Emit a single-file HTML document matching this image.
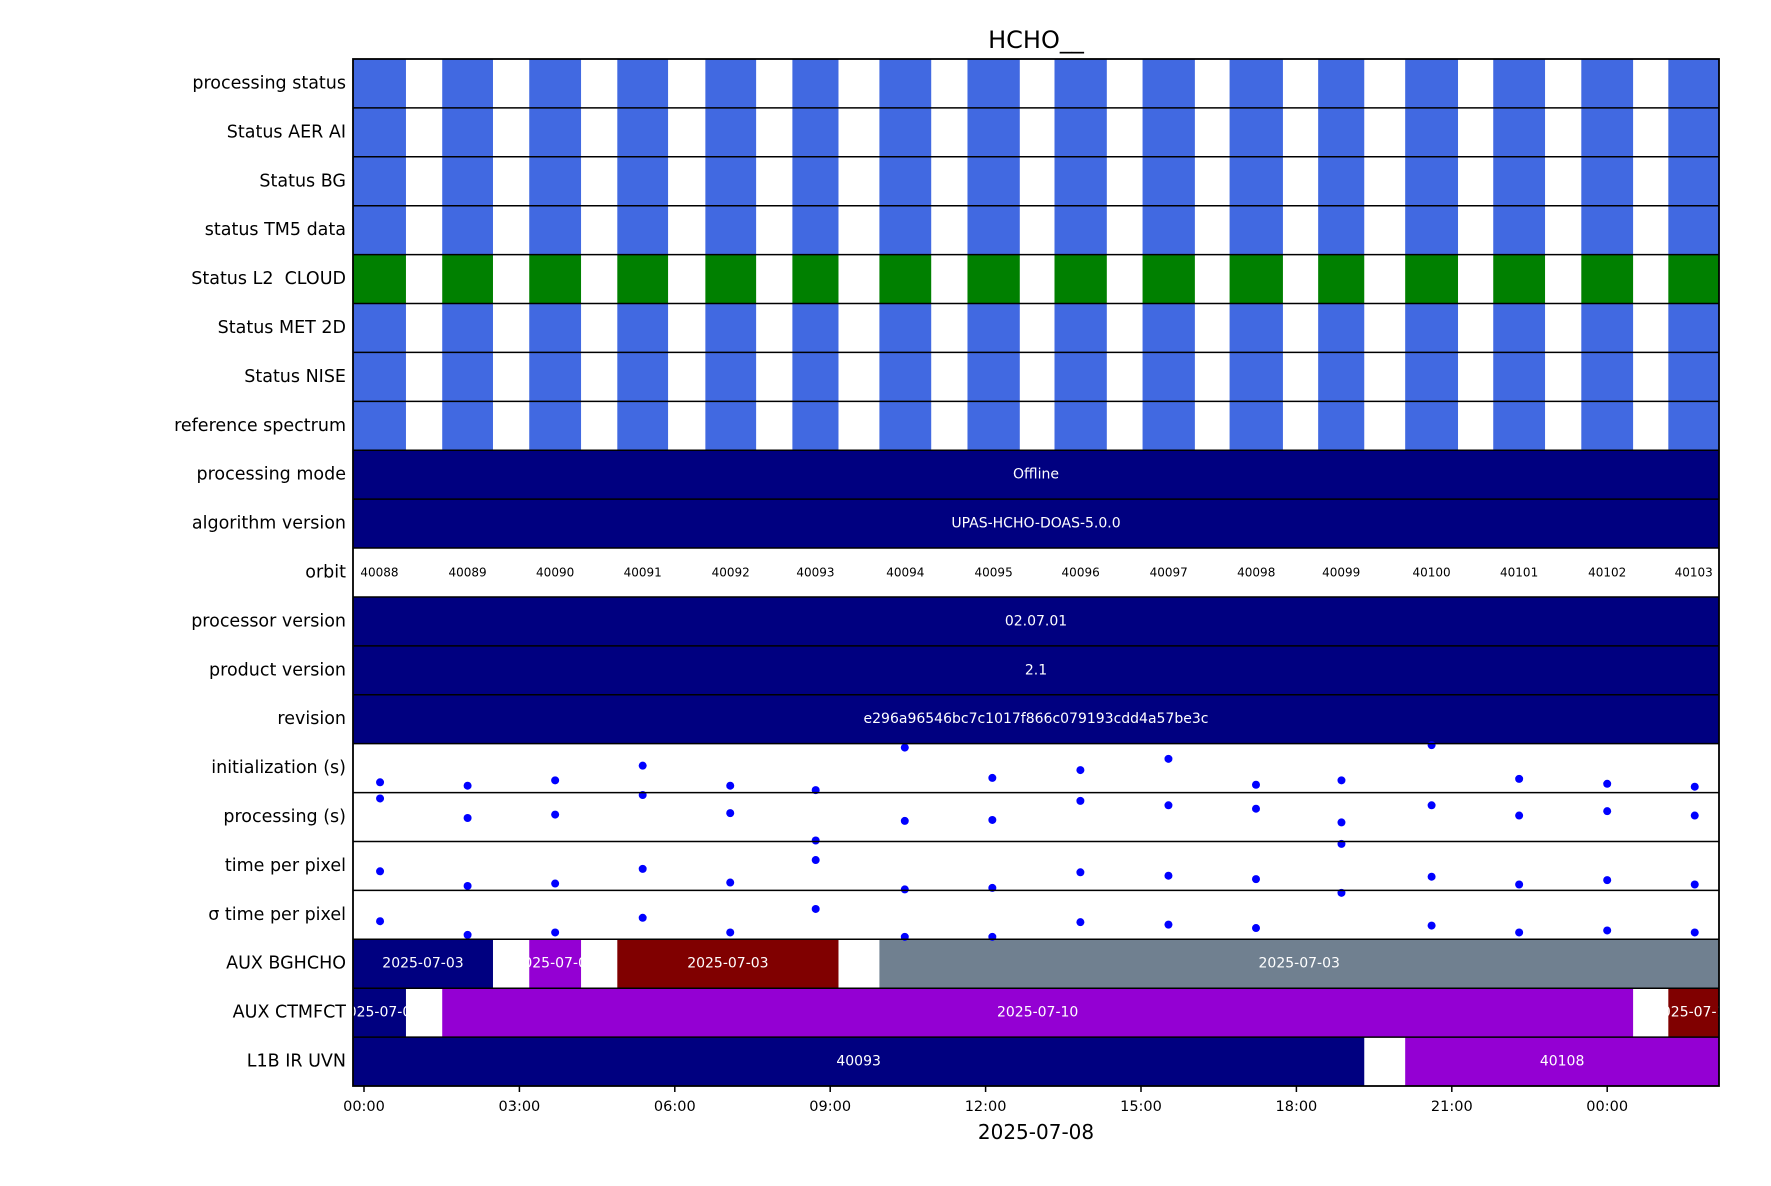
<!DOCTYPE html>
<html><head><meta charset="utf-8"><style>
body{margin:0;background:#fff;}
svg text{font-family:"DejaVu Sans","Liberation Sans",sans-serif;}
</style></head><body>
<svg id="chart" width="1771" height="1181" xmlns="http://www.w3.org/2000/svg">
<text x="1036" y="48" font-size="24" text-anchor="middle">HCHO__</text>
<g id="plot"></g>
</svg>
<script>
const rowLabels=["processing status","Status AER AI","Status BG","status TM5 data","Status L2  CLOUD","Status MET 2D","Status NISE","reference spectrum","processing mode","algorithm version","orbit","processor version","product version","revision","initialization (s)","processing (s)","time per pixel","\u03c3 time per pixel","AUX BGHCHO","AUX CTMFCT","L1B IR UVN"];
const orbits=[40088,40089,40090,40091,40092,40093,40094,40095,40096,40097,40098,40099,40100,40101,40102,40103];
const orbitStart=[-0.5,1.51,3.19,4.89,6.59,8.27,9.95,11.65,13.33,15.03,16.71,18.42,20.1,21.8,23.5,25.18];
const orbitEnd=[0.81,2.49,4.19,5.87,7.57,9.16,10.95,12.66,14.34,16.04,17.74,19.31,21.12,22.8,24.5,26.5];
const orbitMid=[0.31,2.0,3.69,5.38,7.07,8.72,10.44,12.13,13.83,15.53,17.22,18.87,20.61,22.3,24.0,25.69];
const initVals=[0.21,0.14,0.25,0.55,0.14,0.05,0.92,0.30,0.46,0.69,0.16,0.25,0.97,0.28,0.18,0.12];
const procVals=[0.88,0.48,0.55,0.95,0.58,0.02,0.42,0.44,0.83,0.74,0.67,0.39,0.74,0.53,0.62,0.53];
const tppVals=[0.39,0.09,0.14,0.44,0.16,0.62,0.02,0.05,0.37,0.30,0.23,0.95,0.28,0.12,0.21,0.12];
const sigmaVals=[0.37,0.09,0.14,0.44,0.14,0.62,0.05,0.05,0.35,0.30,0.23,0.95,0.28,0.14,0.18,0.14];
const bgSegs=[[-0.5,2.49,"#000080","2025-07-03"],[3.19,4.19,"#9400D3","2025-07-03"],[4.89,9.16,"#800000","2025-07-03"],[9.95,26.5,"#708090","2025-07-03"]];
const ctmSegs=[[-0.5,0.81,"#000080","2025-07-09"],[1.51,24.5,"#9400D3","2025-07-10"],[25.18,26.5,"#800000","2025-07-11"]];
const l1bSegs=[[-0.5,19.31,"#000080","40093"],[20.1,26.5,"#9400D3","40108"]];
const constRows={8:"Offline",9:"UPAS-HCHO-DOAS-5.0.0",11:"02.07.01",12:"2.1",13:"e296a96546bc7c1017f866c079193cdd4a57be3c"};
const tickHours=[0,3,6,9,12,15,18,21,24];
const tickLabels=["00:00","03:00","06:00","09:00","12:00","15:00","18:00","21:00","00:00"];

const L=353,R=1719,T=59,B=1086,RH=(B-T)/rowLabels.length;
const xs=h=>364+h*51.8;
const cx=h=>Math.max(L,Math.min(R,xs(h)));
const NS="http://www.w3.org/2000/svg";
const g=document.getElementById('plot');
function mk(tag,attrs,parent){const e=document.createElementNS(NS,tag);for(const k in attrs)e.setAttribute(k,attrs[k]);(parent||g).appendChild(e);return e;}
function rowTop(i){return T+i*RH;}
function seg(i,a,b,color,name){
  const x1=cx(a),x2=cx(b);
  const r=mk('rect',{x:x1,y:rowTop(i),width:Math.max(0,x2-x1),height:RH,fill:color});
  
  
  return [x1,x2];
}
function label(x,y,txt,size,color,name){
  const t=mk('text',{x:x,y:y,'font-size':size,'text-anchor':'middle','dominant-baseline':'central',fill:color});
  t.textContent=txt;
  
  
}
for(let i=0;i<8;i++){
  const col=i===4?"#008000":"#4169E1";
  orbits.forEach((o,k)=>seg(i,orbitStart[k],orbitEnd[k],col,'status-block-'+o));
}
for(const k in constRows){
  const i=+k;
  seg(i,-1,27,"#000080",'const-bar');
  label((L+R)/2,rowTop(i)+RH/2,constRows[k],14,"#fff",'const-label');
}
orbits.forEach((o,k)=>{
  const x1=cx(orbitStart[k]),x2=cx(orbitEnd[k]);
  label((x1+x2)/2,rowTop(10)+RH/2,String(o),12,"#000",'orbit-label');
});
[[18,bgSegs],[19,ctmSegs],[20,l1bSegs]].forEach(([i,segs])=>{
  segs.forEach(s=>{
    const [x1,x2]=seg(i,s[0],s[1],s[2],'aux-segment');
    label((x1+x2)/2,rowTop(i)+RH/2,s[3],14,"#fff",'aux-label');
  });
});
[[14,initVals],[15,procVals],[16,tppVals],[17,sigmaVals]].forEach(([i,vals])=>{
  vals.forEach((v,k)=>{
    const c=mk('circle',{cx:xs(orbitMid[k]),cy:rowTop(i)+RH-v*RH,r:4,fill:"#0000FF"});
    
    
  });
});
rowLabels.forEach((lab,i)=>{
  if(i>0){const l=mk('line',{x1:L,x2:R,y1:rowTop(i),y2:rowTop(i),stroke:"#000","stroke-width":1.5});
    
    }
  const t=mk('text',{x:L-7,y:rowTop(i)+RH/2,'font-size':17.5,'text-anchor':'end','dominant-baseline':'central',fill:"#000",style:"white-space:pre"});
  t.textContent=lab;
  
  
});
const fr=mk('rect',{x:L,y:T,width:R-L,height:B-T,fill:"none",stroke:"#000","stroke-width":1.8});


tickHours.forEach((h,k)=>{
  const x=xs(h);
  const tk=mk('line',{x1:x,x2:x,y1:B,y2:B+6,stroke:"#000","stroke-width":1.5});
  
  
  const t=mk('text',{x:x,y:B+25,'font-size':14.5,'text-anchor':'middle',fill:"#000"});
  t.textContent=tickLabels[k];
  
  
});
const xl=mk('text',{x:(L+R)/2,y:1139,'font-size':20,'text-anchor':'middle',fill:"#000"});
xl.textContent="2025-07-08";


</script>
</body></html>
